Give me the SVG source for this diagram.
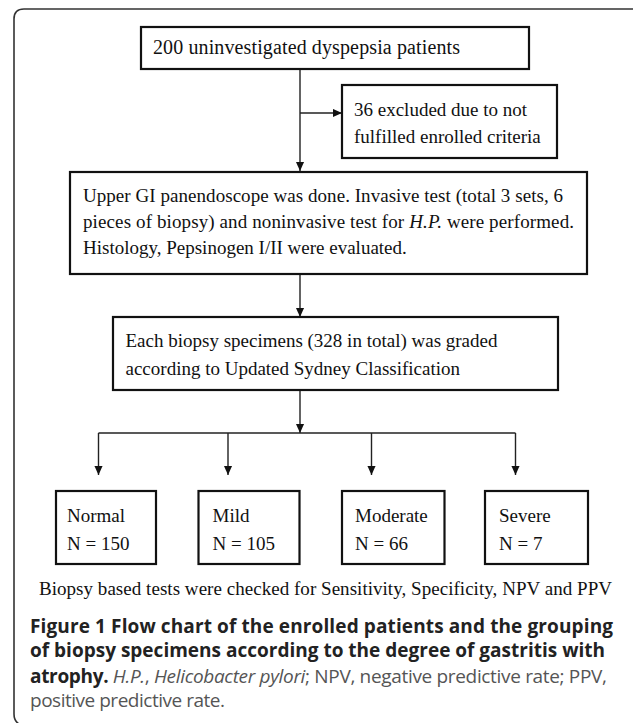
<svg xmlns="http://www.w3.org/2000/svg" width="633" height="723" viewBox="0 0 633 723">
<style>
.bx{fill:#fff;stroke:#111;stroke-width:2.2}
.t{font-family:"Liberation Serif","Times New Roman",serif;font-size:19px;fill:#111}
.ln{stroke:#222;stroke-width:1.4;fill:none}
.cap{font-family:"Open Sans",sans-serif;font-size:19px;fill:#555}
.cb{font-weight:700;fill:#222}
.it{font-style:italic}
</style>
<defs>
<marker id="ah" viewBox="0 0 10 10" refX="10" refY="5" markerWidth="9" markerHeight="9" markerUnits="userSpaceOnUse" orient="auto">
<path d="M0,0.5 L10,5 L0,9.5 z" fill="#111"/>
</marker>
</defs>
<rect width="633" height="723" fill="#fff"/>
<path d="M640,9 H24 Q14,9 14,19 V714 Q14,721 19,724" fill="none" stroke="#333" stroke-width="1.6"/>
<g id="connectors">
<line class="ln" x1="300" y1="69" x2="300" y2="171" marker-end="url(#ah)"/>
<line class="ln" x1="300" y1="113" x2="342" y2="113" marker-end="url(#ah)"/>
<line class="ln" x1="300" y1="274" x2="300" y2="317" marker-end="url(#ah)"/>
<line class="ln" x1="300" y1="390" x2="300" y2="433" marker-end="url(#ah)"/>
<line class="ln" x1="98.5" y1="433" x2="515.5" y2="433"/>
<line class="ln" x1="98.5" y1="433" x2="98.5" y2="475" marker-end="url(#ah)"/>
<line class="ln" x1="228" y1="433" x2="228" y2="475" marker-end="url(#ah)"/>
<line class="ln" x1="371.5" y1="433" x2="371.5" y2="475" marker-end="url(#ah)"/>
<line class="ln" x1="515.5" y1="433" x2="515.5" y2="475" marker-end="url(#ah)"/>
</g>
<g id="n1">
<rect class="bx" x="141" y="27" width="388" height="42"/>
<text class="t" x="153" y="54" style="font-size:20px" textLength="307">200 uninvestigated dyspepsia patients</text>
</g>
<g id="n2">
<rect class="bx" x="342" y="85" width="215" height="73"/>
<text class="t" x="354" y="116">36 excluded due to not</text>
<text class="t" x="354" y="143">fulfilled enrolled criteria</text>
</g>
<g id="n3">
<rect class="bx" x="70" y="172" width="517" height="102"/>
<text class="t" x="83" y="202" textLength="480">Upper GI panendoscope was done. Invasive test (total 3 sets, 6</text>
<text class="t" x="83" y="228" textLength="491">pieces of biopsy) and noninvasive test for <tspan class="it">H.P.</tspan> were performed.</text>
<text class="t" x="83" y="254">Histology, Pepsinogen I/II were evaluated.</text>
</g>
<g id="n4">
<rect class="bx" x="113" y="317" width="445" height="73"/>
<text class="t" x="125.5" y="346.5">Each biopsy specimens (328 in total) was graded</text>
<text class="t" x="125.5" y="374.5">according to Updated Sydney Classification</text>
</g>
<g id="n5">
<rect class="bx" x="56" y="491" width="100" height="73"/>
<text class="t" x="67" y="521.5">Normal</text>
<text class="t" x="67" y="550">N = 150</text>
</g>
<g id="n6">
<rect class="bx" x="198.5" y="491" width="101" height="73"/>
<text class="t" x="212.5" y="521.5">Mild</text>
<text class="t" x="212.5" y="550">N = 105</text>
</g>
<g id="n7">
<rect class="bx" x="342" y="491" width="102.5" height="73"/>
<text class="t" x="355" y="521.5">Moderate</text>
<text class="t" x="355" y="550">N = 66</text>
</g>
<g id="n8">
<rect class="bx" x="485" y="491" width="103" height="73"/>
<text class="t" x="499" y="521.5">Severe</text>
<text class="t" x="499" y="550">N = 7</text>
</g>
<text class="t" x="39" y="595" textLength="573">Biopsy based tests were checked for Sensitivity, Specificity, NPV and PPV</text>
<g id="caption">
<text class="cap cb" x="30" y="632.5" textLength="583">Figure 1 Flow chart of the enrolled patients and the grouping</text>
<text class="cap cb" x="30" y="657" textLength="575">of biopsy specimens according to the degree of gastritis with</text>
<text class="cap" x="30" y="682.5" textLength="577"><tspan class="cb">atrophy.</tspan> <tspan class="it">H.P.</tspan>, <tspan class="it">Helicobacter pylori</tspan>; NPV, negative predictive rate; PPV,</text>
<text class="cap" x="30" y="706.5" textLength="195">positive predictive rate.</text>
</g>
</svg>
